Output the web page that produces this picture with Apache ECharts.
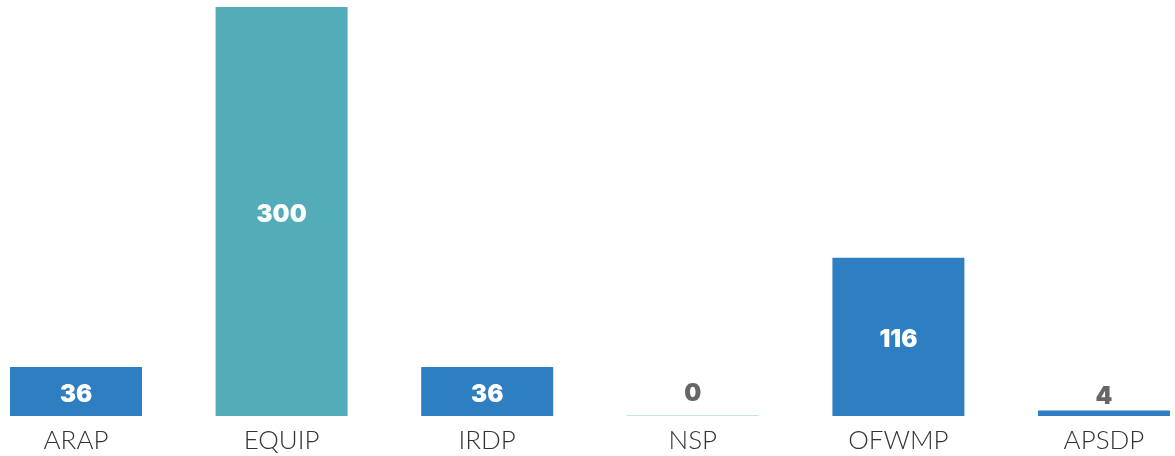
<!DOCTYPE html>
<html><head><meta charset="utf-8">
<script src="https://cdn.jsdelivr.net/npm/echarts@6/dist/echarts.min.js"></script>
<style>html,body{margin:0;padding:0;background:#fff}#c{width:1175px;height:456px}</style>
</head><body><div id="c"></div>
<script>
const categories = ['ARAP', 'EQUIP', 'IRDP', 'NSP', 'OFWMP', 'APSDP'];
const values = [36, 300, 36, 0, 116, 4];
const barColors = ['#2e7fc1', '#52adb8', '#2e7fc1', '#c3e5e9', '#2e7fc1', '#2e7fc1'];
const labelInside = [true, true, true, false, true, false];
const labelDistance = [5, 5, 5, 9, 2, 2];

const data = values.map((v, i) => ({
  value: v,
  itemStyle: { color: barColors[i] },
  label: labelInside[i]
    ? { position: 'inside', color: '#ffffff', offset: [0, 3] }
    : { position: 'top', color: '#666666', distance: labelDistance[i] }
}));

const chart = echarts.init(document.getElementById('c'));
chart.setOption({
  animation: false,
  grid: { left: 76, right: 71, top: 7, bottom: 40, containLabel: false },
  xAxis: {
    type: 'category', data: categories, boundaryGap: false,
    axisLine: { show: false }, axisTick: { show: false }, splitLine: { show: false },
    axisLabel: { fontFamily: 'Lato', fontWeight: 300, fontSize: 26, color: '#333', margin: 12, interval: 0 }
  },
  yAxis: { type: 'value', min: 0, max: 300, show: false, splitLine: { show: false } },
  series: [{
    type: 'bar', data: data, barWidth: 132, barMinHeight: 1,
    label: { show: true, fontFamily: 'Inter', fontWeight: 900, fontSize: 24 }
  }]
});
</script></body></html>
